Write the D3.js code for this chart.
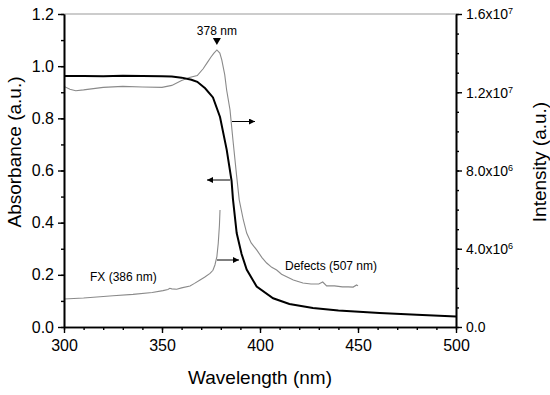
<!DOCTYPE html>
<html>
<head>
<meta charset="utf-8">
<script src="https://cdn.jsdelivr.net/npm/d3@7"></script>
<style>
  body { margin: 0; background: #fff; }
  svg { font-family: Arial, "Liberation Sans", sans-serif; }
</style>
</head>
<body>
<div id="chart"></div>
<script>
// absorbance (left axis)
const absWave = [300, 310, 320, 330, 340, 350, 355, 360, 365, 368, 372, 376, 379.6, 383, 385.5, 386.2, 388.1, 390.6, 393.2, 398.3, 406.7, 415, 427, 440, 461, 480, 500];
const absValue = [0.962, 0.962, 0.961, 0.963, 0.962, 0.961, 0.960, 0.956, 0.948, 0.94, 0.915, 0.88, 0.805, 0.68, 0.56, 0.49, 0.36, 0.28, 0.22, 0.155, 0.11, 0.088, 0.073, 0.063, 0.054, 0.047, 0.04];

// PL intensity, defects branch (right axis, units of 1e6)
const defWave = [300, 303, 306, 310, 320, 330, 340, 350, 355, 360, 364, 368, 371, 373, 375, 376.5, 378, 379.5, 380.5, 382, 383, 384.7, 386.2, 388.1, 389.4, 391.5, 393.2, 395.5, 398.3, 401, 403.4, 406, 408.5, 411, 413.6, 417, 421.9, 426, 430, 432, 434, 438, 442, 445, 447.5, 449.3, 450];
const defValue = [12.3, 12.15, 12.08, 12.12, 12.25, 12.3, 12.27, 12.25, 12.35, 12.6, 12.75, 12.85, 13.2, 13.5, 13.8, 14.0, 14.16, 14.0, 13.65, 12.9, 12.1, 11.1, 9.56, 7.7, 6.5, 5.47, 4.8, 4.3, 3.94, 3.55, 3.27, 3.05, 2.91, 2.7, 2.57, 2.4, 2.25, 2.2, 2.2, 2.3, 2.1, 2.1, 2.05, 2.05, 2.04, 2.15, 2.1];

// PL intensity, FX branch (right axis, units of 1e6)
const fxWave = [300, 310, 318.4, 325, 335.2, 345, 350.5, 353, 354, 355, 357.5, 360, 364.3, 366.6, 369.4, 371.7, 374.5, 376, 377, 378, 378.7, 379.3, 379.6];
const fxValue = [1.43, 1.48, 1.55, 1.6, 1.67, 1.76, 1.86, 1.92, 1.98, 1.95, 1.93, 2.0, 2.1, 2.23, 2.4, 2.54, 2.74, 2.9, 3.17, 3.6, 4.28, 5.2, 5.98];

const xTicks = [300, 350, 400, 450, 500];
const leftTicks = [0.0, 0.2, 0.4, 0.6, 0.8, 1.0, 1.2];
const rightTicks = [0, 4e6, 8e6, 1.2e7, 1.6e7];
const rightTickLabels = [['0.0', ''], ['4.0x10', '6'], ['8.0x10', '6'], ['1.2x10', '7'], ['1.6x10', '7']];

const width = 550, height = 395;
const margin = { top: 14, right: 94, bottom: 68, left: 64 };

const svg = d3.select('#chart').append('svg')
    .attr('width', width)
    .attr('height', height);

const x = d3.scaleLinear().domain([300, 500]).range([margin.left, width - margin.right]);
const yL = d3.scaleLinear().domain([0, 1.2]).range([height - margin.bottom, margin.top]);
const yR = d3.scaleLinear().domain([0, 1.6e7]).range([height - margin.bottom, margin.top]);

const plotBottom = height - margin.bottom;
const plotRight = width - margin.right;

// top frame line
svg.append('line')
    .attr('x1', margin.left).attr('x2', plotRight)
    .attr('y1', margin.top).attr('y2', margin.top)
    .attr('stroke', '#999').attr('stroke-width', 1.2);

// curves
const absLine = d3.line().x(d => x(d[0])).y(d => yL(d[1]));
const plLine = d3.line().x(d => x(d[0])).y(d => yR(d[1] * 1e6));

svg.append('path')
    .datum(defWave.map((w, i) => [w, defValue[i]]))
    .attr('d', plLine)
    .attr('fill', 'none').attr('stroke', '#8a8a8a').attr('stroke-width', 1.1);

svg.append('path')
    .datum(fxWave.map((w, i) => [w, fxValue[i]]))
    .attr('d', plLine)
    .attr('fill', 'none').attr('stroke', '#8a8a8a').attr('stroke-width', 1.1);

svg.append('path')
    .datum(absWave.map((w, i) => [w, absValue[i]]))
    .attr('d', absLine)
    .attr('fill', 'none').attr('stroke', '#000').attr('stroke-width', 2);

// axes
const xAxis = d3.axisBottom(x).tickValues(xTicks).tickSize(6).tickSizeOuter(0).tickPadding(7).tickFormat(d3.format('d'));
const xMinor = d3.axisBottom(x).tickValues(d3.range(300, 501, 10)).tickSize(3).tickSizeOuter(0).tickFormat('');
const yLAxis = d3.axisLeft(yL).tickValues(leftTicks).tickSize(6).tickSizeOuter(0).tickPadding(4).tickFormat(d3.format('.1f'));
const yLMinor = d3.axisLeft(yL).tickValues(d3.range(0, 1.21, 0.1)).tickSize(3).tickSizeOuter(0).tickFormat('');
const yRAxis = d3.axisRight(yR).tickValues(rightTicks).tickSize(6).tickSizeOuter(0).tickFormat('');
const yRMinor = d3.axisRight(yR).tickValues(d3.range(0, 1.61e7, 1e6)).tickSize(3).tickSizeOuter(0).tickFormat('');

function styleAxis(g) {
    g.select('.domain').attr('stroke', '#000').attr('stroke-width', 1.6);
    g.selectAll('.tick line').attr('stroke', '#000').attr('stroke-width', 1.4);
    g.selectAll('.tick text').attr('font-size', 16).attr('fill', '#000').attr('font-family', 'Arial, "Liberation Sans", sans-serif');
}

svg.append('g').attr('transform', `translate(0,${plotBottom})`).call(xMinor).call(styleAxis);
svg.append('g').attr('transform', `translate(0,${plotBottom})`).call(xAxis).call(styleAxis);
svg.append('g').attr('transform', `translate(${margin.left},0)`).call(yLMinor).call(styleAxis);
svg.append('g').attr('transform', `translate(${margin.left},0)`).call(yLAxis).call(styleAxis);
svg.append('g').attr('transform', `translate(${plotRight},0)`).call(yRMinor).call(styleAxis);
const rAx = svg.append('g').attr('transform', `translate(${plotRight},0)`).call(yRAxis).call(styleAxis);

// right tick labels with superscripts
rAx.selectAll('.tick').each(function (d, i) {
    const t = d3.select(this).append('text')
        .attr('x', 10).attr('dy', '0.35em')
        .attr('font-size', 14).attr('fill', '#000')
        .attr('font-family', 'Arial, "Liberation Sans", sans-serif');
    t.append('tspan').text(rightTickLabels[i][0]);
    if (rightTickLabels[i][1]) {
        t.append('tspan').attr('dy', '-0.55em').attr('font-size', 9).text(rightTickLabels[i][1]);
    }
});

// axis titles
svg.append('text')
    .attr('x', (margin.left + plotRight) / 2).attr('y', 384)
    .attr('text-anchor', 'middle').attr('font-size', 19)
    .text('Wavelength (nm)');

svg.append('text')
    .attr('transform', 'translate(21,152) rotate(-90)')
    .attr('text-anchor', 'middle').attr('font-size', 19)
    .text('Absorbance (a.u.)');

svg.append('text')
    .attr('transform', 'translate(546,162) rotate(-90)')
    .attr('text-anchor', 'middle').attr('font-size', 19)
    .text('Intensity (a.u.)');

// annotations
svg.append('text')
    .attr('x', x(378)).attr('y', 35)
    .attr('text-anchor', 'middle').attr('font-size', 12)
    .text('378 nm');
svg.append('path')
    .attr('d', `M${x(378) - 4},38 L${x(378) + 4},38 L${x(378)},45 Z`)
    .attr('fill', '#000');

svg.append('text')
    .attr('x', 90).attr('y', 281)
    .attr('font-size', 12)
    .text('FX (386 nm)');
svg.append('text')
    .attr('x', 285).attr('y', 270)
    .attr('font-size', 12)
    .text('Defects (507 nm)');

const defs = svg.append('defs');
defs.append('marker')
    .attr('id', 'head').attr('viewBox', '0 0 10 10')
    .attr('refX', 10).attr('refY', 5)
    .attr('markerWidth', 10).attr('markerHeight', 6)
    .attr('markerUnits', 'userSpaceOnUse')
    .attr('orient', 'auto')
    .append('path').attr('d', 'M0,0 L10,5 L0,10 Z').attr('fill', '#000');

function arrow(x1, y1, x2, y2) {
    svg.append('line')
        .attr('x1', x1).attr('y1', y1).attr('x2', x2).attr('y2', y2)
        .attr('stroke', '#000').attr('stroke-width', 1)
        .attr('marker-end', 'url(#head)');
}
arrow(232, 121.5, 255, 121.5);
arrow(230, 180, 207, 180);
arrow(217, 260, 239, 260);
</script>
</body>
</html>
